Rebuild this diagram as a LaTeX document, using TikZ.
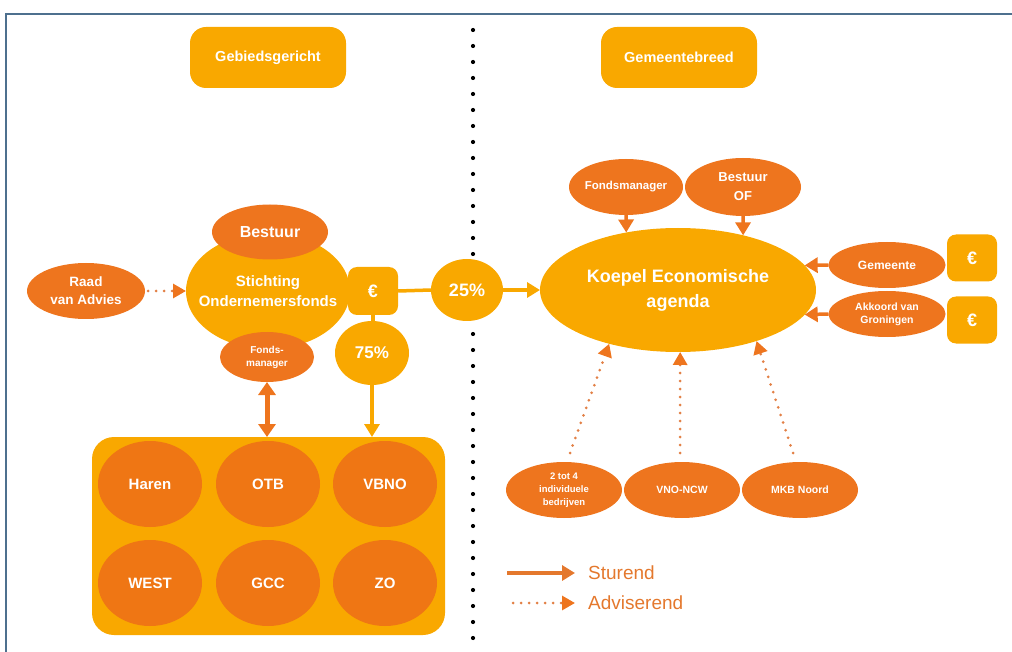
\documentclass[tikz,border=0pt]{standalone}
\usepackage{fontspec}
\setmainfont{Liberation Sans}
\usetikzlibrary{shapes.geometric,arrows.meta,calc}
\definecolor{lo}{RGB}{249,168,0}
\definecolor{do}{RGB}{238,117,30}
\definecolor{bo}{RGB}{239,118,20}
\definecolor{dotc}{RGB}{226,128,70}
\definecolor{framec}{RGB}{78,112,142}
\definecolor{legc}{RGB}{228,120,45}
\newcommand{\fsz}[2]{\fontsize{#1}{#2}\selectfont\bfseries}
\tikzset{
  ell/.style={ellipse, inner sep=0pt, outer sep=0pt, text=white, align=center},
  dk/.style={ell, fill=do},
  lt/.style={ell, fill=lo},
  titlebox/.style={rectangle, rounded corners=16pt, fill=lo, minimum width=156pt, minimum height=61pt, text=white, font=\fsz{14.5}{16}, inner sep=0pt},
  eurbox/.style={rectangle, rounded corners=9pt, fill=lo, minimum width=50pt, minimum height=47pt, text=white, font=\fsz{18}{20}, inner sep=0pt},
  inner/.style={ell, fill=bo, minimum width=104pt, minimum height=86pt, font=\fsz{15}{18}},
  smallD/.style={dk, minimum width=116pt, minimum height=56pt, font=\fsz{10.5}{13}},
  solidL/.style={draw=lo, line width=3.5pt, -{Triangle[width=15pt,length=13pt]}},
  solidD/.style={draw=do, line width=3.5pt, -{Triangle[width=15pt,length=13pt]}},
  plainL/.style={draw=lo, line width=3.5pt},
  dotA/.style={draw=dotc, line width=3pt, line cap=round, dash pattern=on 0pt off 8pt, -{Triangle[width=14pt,length=13pt,color=do]}},
  dblA/.style={draw=do, line width=5pt, {Triangle[width=17pt,length=13pt]}-{Triangle[width=17pt,length=13pt]}},
  legtext/.style={anchor=west, text=legc, font=\fontsize{19}{22}\selectfont, inner sep=0pt}
}
\begin{document}
\begin{tikzpicture}[x=1pt,y=-1pt]
\useasboundingbox (0,0) rectangle (1012,652);
% frame
\draw[framec, line width=2.5pt] (6,652) -- (6,14) -- (1012,14);
% divider dots
\foreach \k in {0,...,38} \fill (473,30+16*\k) circle (2.1);
% titles
\node[titlebox] (geb) at (268,57.5) {Gebiedsgericht};
\node[titlebox] (gem) at (679,57.5) {Gemeentebreed};
% left side
\node[lt, minimum width=164pt, minimum height=116pt, inner xsep=-12pt, font=\fsz{15}{20}] (sof) at (268,291) {Stichting\\Ondernemersfonds};
\node[dk, minimum width=116pt, minimum height=55pt, font=\fsz{16}{19}] (bestL) at (270,232) {Bestuur};
\node[dk, minimum width=94pt, minimum height=50pt, font=\fsz{10}{13}] (fmL) at (267,357) {Fonds-\\manager};
\node[dk, minimum width=118pt, minimum height=56pt, font=\fsz{13.5}{18}] (raad) at (86,291) {Raad\\van Advies};
\node[eurbox, minimum height=48pt] (eurL) at (373,291) {€};
\node[lt, minimum width=72pt, minimum height=62pt, font=\fsz{18}{20}] (p25) at (467,290) {25\%};
\node[lt, minimum width=74pt, minimum height=64pt, font=\fsz{17}{20}] (p75) at (372,353) {75\%};
% bento box
\node[rectangle, rounded corners=22pt, fill=lo, minimum width=353pt, minimum height=198pt, inner sep=0pt, outer sep=0pt] (bento) at (268.5,536) {};
\node[inner] (haren) at (150,484) {Haren};
\node[inner] (otb) at (268,484) {OTB};
\node[inner] (vbno) at (385,484) {VBNO};
\node[inner] (west) at (150,583) {WEST};
\node[inner] (gcc) at (268,583) {GCC};
\node[inner] (zo) at (385,583) {ZO};
% right side
\node[lt, minimum width=276pt, minimum height=124pt, inner xsep=-6pt, font=\fsz{18}{25}] (koepel) at (678,290) {Koepel Economische\\agenda};
\node[dk, minimum width=114pt, minimum height=56pt, inner xsep=-5pt, font=\fsz{11.5}{14}] (fmR) at (626,187) {Fondsmanager};
\node[dk, minimum width=116pt, minimum height=58pt, font=\fsz{13}{19}] (bestOF) at (743,187) {Bestuur\\OF};
\node[dk, minimum width=117pt, minimum height=46pt, font=\fsz{12}{14}] (gemeente) at (887,265) {Gemeente};
\node[dk, minimum width=117pt, minimum height=46pt, font=\fsz{10.5}{13}] (akkoord) at (887,314) {Akkoord van\\Groningen};
\node[eurbox] (eurR1) at (972,258) {€};
\node[eurbox] (eurR2) at (972,320) {€};
\node[smallD, font=\fsz{9.5}{13}] (tot4) at (564,490) {2 tot 4\\individuele\\bedrijven};
\node[smallD] (vno) at (682,490) {VNO-NCW};
\node[smallD] (mkb) at (800,490) {MKB Noord};
% connectors
\draw[dotA] ($(raad.east)+(3,0)$) -- (raad.east -| sof.west);
\draw[plainL] (eurL.east) -- (p25.west);
\draw[plainL] (eurL.south) -- (eurL.south |- p75.north);
\draw[solidL] (p75.south) -- (p75.south |- bento.north);
\draw[dblA] (fmL.south) -- (fmL.south |- bento.north);
\draw[solidL] (p25.east) -- (koepel.west);
\draw[solidD] (fmR.south) -- (koepel.132);
\draw[solidD] (bestOF.south) -- (koepel.40);
\draw[solidD] (gemeente.west) -- (koepel.11);
\draw[solidD] (akkoord.west) -- (koepel.-11);
\draw[dotA] ($(tot4.north)+(6,-9)$) -- (koepel.218);
\draw[dotA] ($(vno.north)+(-2,-9)$) -- (koepel.272);
\draw[dotA] ($(mkb.north)+(-7,-9)$) -- (koepel.327);
% legend
\coordinate (l1a) at (507,573);
\coordinate (l1b) at (575,573);
\coordinate (l2a) at (513,603);
\coordinate (l2b) at (575,603);
\draw[solidD, draw=legc] (l1a) -- (l1b);
\draw[dotA] (l2a) -- (l2b);
\node[legtext] (sturend) at (588,573) {Sturend};
\node[legtext] (adv) at (588,603) {Adviserend};
\end{tikzpicture}
\end{document}
